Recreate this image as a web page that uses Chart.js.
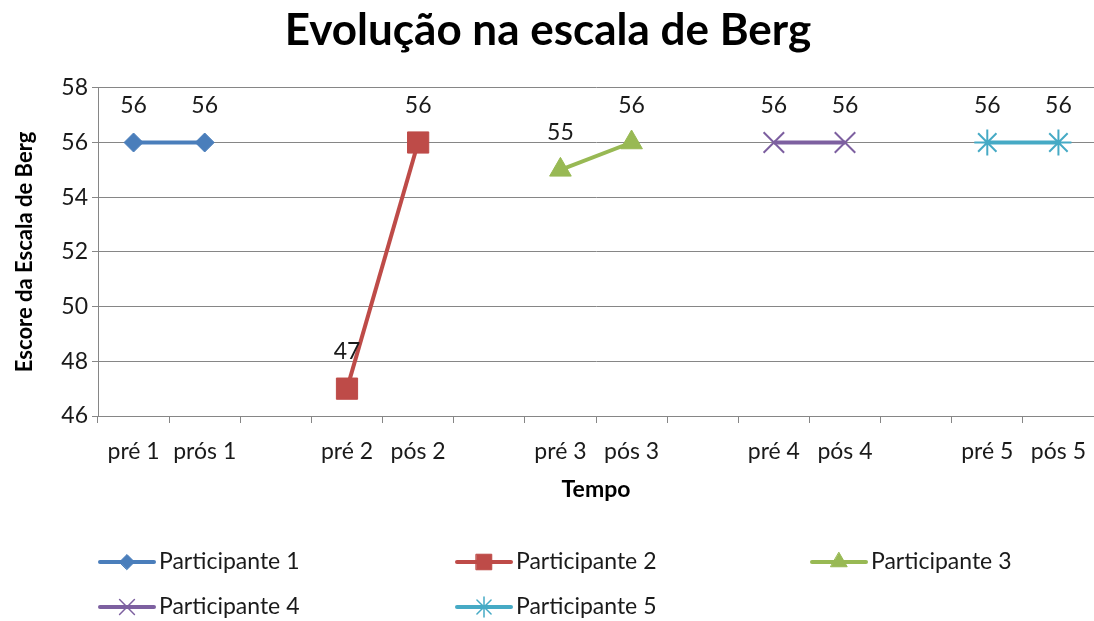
<!DOCTYPE html>
<html>
<head>
<meta charset="utf-8">
<script src="https://cdn.jsdelivr.net/npm/chart.js@4"></script>
<style>
  html, body { margin: 0; padding: 0; background: #fff; }
  #wrap { width: 1094px; height: 621px; }
</style>
</head>
<body>
<div id="wrap"><canvas id="myChart" width="1094" height="621"></canvas></div>
<script>
// categories (empty slots separate the participants)
const labels = ["pré 1", "prós 1", "", "pré 2", "pós 2", "", "pré 3", "pós 3", "", "pré 4", "pós 4", "", "pré 5", "pós 5"];
const p1 = [56, 56, null, null, null, null, null, null, null, null, null, null, null, null];
const p2 = [null, null, null, 47, 56, null, null, null, null, null, null, null, null, null];
const p3 = [null, null, null, null, null, null, 55, 56, null, null, null, null, null, null];
const p4 = [null, null, null, null, null, null, null, null, null, 56, 56, null, null, null];
const p5 = [null, null, null, null, null, null, null, null, null, null, null, null, 56, 56];
const seriesNames = ["Participante 1", "Participante 2", "Participante 3", "Participante 4", "Participante 5"];

const FONT = "Lato, 'Open Sans', sans-serif";
const colors = ["#4a7ebb", "#be4b48", "#98b954", "#7d60a0", "#46aac5"];
const markers = ["rectRot", "rect", "triangle", "crossRot", "star"];
const markerSize = [9.5, 15, 12.5, 14.5, 13];
const legendMarkerSize = [7.5, 11, 9.5, 10.5, 10];

function makeSet(i, data) {
  return {
    label: seriesNames[i],
    data: data,
    borderColor: colors[i],
    backgroundColor: colors[i],
    borderWidth: 4,
    pointStyle: markers[i],
    pointRadius: markerSize[i],
    pointHoverRadius: markerSize[i],
    pointBackgroundColor: colors[i],
    pointBorderColor: colors[i],
    pointBorderWidth: (i >= 3) ? 2 : 1,
    tension: 0,
  };
}

// value labels above each point
const valueLabels = {
  id: "valueLabels",
  afterDatasetsDraw(chart) {
    const ctx = chart.ctx;
    ctx.save();
    ctx.font = "23px " + FONT;
    ctx.fillStyle = "#1a1a1a";
    ctx.textAlign = "center";
    ctx.textBaseline = "middle";
    chart.data.datasets.forEach((ds, i) => {
      const meta = chart.getDatasetMeta(i);
      meta.data.forEach((pt, j) => {
        const v = ds.data[j];
        if (v == null) return;
        ctx.fillText(String(v), pt.x, pt.y - 37);
      });
    });
    ctx.restore();
  },
};

// legend laid out in a 3 column grid like the original
const gridLegend = {
  id: "gridLegend",
  afterDraw(chart) {
    const ctx = chart.ctx;
    const colX = [98, 455, 810];
    const rowY = [562, 607];
    ctx.save();
    chart.data.datasets.forEach((ds, i) => {
      const x = colX[i % 3];
      const y = rowY[Math.floor(i / 3)];
      ctx.strokeStyle = colors[i];
      ctx.lineWidth = 4;
      ctx.lineCap = "round";
      ctx.beginPath();
      ctx.moveTo(x + 2, y);
      ctx.lineTo(x + 56, y);
      ctx.stroke();
      ctx.fillStyle = colors[i];
      ctx.lineWidth = (i >= 3) ? 1.5 : 1;
      Chart.helpers.drawPoint(ctx, { pointStyle: markers[i], radius: legendMarkerSize[i], borderWidth: ctx.lineWidth, rotation: 0 }, x + 29, y);
      ctx.fillStyle = "#1a1a1a";
      ctx.font = "23px " + FONT;
      ctx.textAlign = "left";
      ctx.textBaseline = "middle";
      ctx.fillText(ds.label, x + 61, y);
    });
    ctx.restore();
  },
};

let chart1 = document.getElementById("myChart").getContext("2d");
const myChart = new Chart(chart1, {
  type: "line",
  data: {
    labels: labels,
    datasets: [makeSet(0, p1), makeSet(1, p2), makeSet(2, p3), makeSet(3, p4), makeSet(4, p5)],
  },
  options: {
    responsive: false,
    animation: false,
    devicePixelRatio: 1,
    layout: { autoPadding: false, padding: { left: 0, right: -2, top: 0, bottom: 116 } },
    plugins: {
      legend: { display: false },
      tooltip: { enabled: false },
      title: {
        display: true,
        text: "Evolução na escala de Berg",
        color: "#000",
        font: { family: FONT, size: 44, weight: "bold", lineHeight: 1.2 },
        padding: { top: 4, bottom: 31 },
      },
    },
    scales: {
      x: {
        offset: true,
        grid: {
          display: true,
          drawOnChartArea: false,
          drawTicks: true,
          tickLength: 7,
          color: "#868686",
          offset: true,
        },
        border: { display: true, color: "#868686", width: 1 },
        ticks: {
          color: "#1a1a1a",
          font: { family: FONT, size: 23 },
          padding: 15,
          autoSkip: false,
          maxRotation: 0,
        },
        title: {
          display: true,
          text: "Tempo",
          color: "#000",
          font: { family: FONT, size: 23, weight: "bold" },
          padding: { top: 0, bottom: 2 },
        },
        afterFit: (s) => {
          s.height = 89;
          s.paddingLeft = 0;
          s.paddingRight = 0;
        },
      },
      y: {
        min: 46,
        max: 58,
        grid: { color: "#868686", tickLength: 6, lineWidth: 1 },
        border: { display: true, color: "#868686", width: 1 },
        ticks: {
          stepSize: 2,
          color: "#1a1a1a",
          font: { family: FONT, size: 23 },
          padding: 4,
        },
        title: {
          display: true,
          text: "Escore da Escala de Berg",
          color: "#000",
          font: { family: FONT, size: 22, weight: "bold" },
          padding: { top: 12, bottom: 0 },
        },
        afterFit: (s) => { s.width = 98; },
      },
    },
  },
  plugins: [valueLabels, gridLegend],
});
</script>
</body>
</html>
